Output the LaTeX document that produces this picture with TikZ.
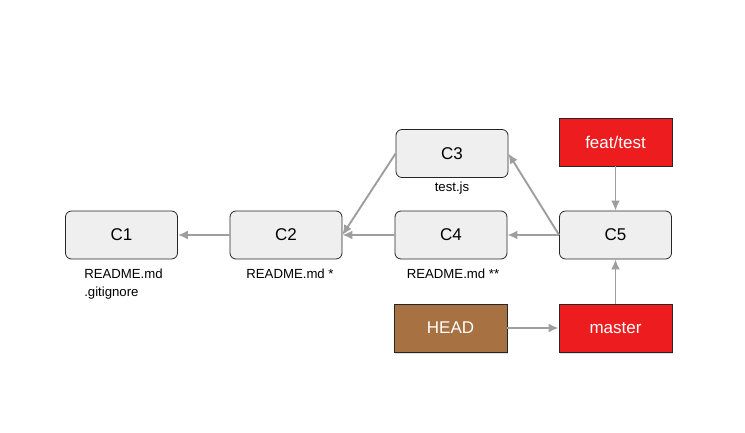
\documentclass[tikz,border=0pt]{standalone}
\usepackage{fontspec}
\setmainfont{Liberation Sans}
\usetikzlibrary{arrows.meta,positioning,shadows}
\definecolor{commitfill}{RGB}{239,239,239}
\definecolor{branchred}{RGB}{237,28,30}
\definecolor{headbrown}{RGB}{168,113,66}
\definecolor{linkgray}{RGB}{158,158,158}

\begin{document}
\begin{tikzpicture}[x=1pt,y=-1pt,>={Latex[length=10pt,width=9pt]},
  commit/.style={rectangle,rounded corners=6pt,fill=commitfill,draw=black!85,line width=0.8pt,
    minimum width=112pt,minimum height=48pt,font=\fontsize{17}{20}\selectfont},
  ref/.style={rectangle,draw=black!85,line width=0.8pt,minimum width=113pt,minimum height=48pt,
    text=white,font=\fontsize{17}{20}\selectfont,
    drop shadow={opacity=0.25,shadow xshift=1pt,shadow yshift=-1.5pt}},
  file/.style={font=\fontsize{13.2}{18.5}\selectfont,align=left,inner sep=1pt},
  link/.style={->,draw=linkgray,line width=1.9pt}]

\useasboundingbox (0,0) rectangle (745,433);

% commits
\node[commit] (C1) at (121.5,235) {C1};
\node[commit] (C2) at (286,235) {C2};
\node[commit] (C3) at (452,153.5) {C3};
\node[commit] (C4) at (451,235) {C4};
\node[commit] (C5) at (615.5,235) {C5};

% refs
\node[ref,fill=branchred] (feat) at (615.5,142) {feat/test};
\node[ref,fill=branchred] (master) at (615.5,328) {master};
\node[ref,fill=headbrown] (HEAD) at (450.5,328) {HEAD};

% files touched
\node[file,below=8pt of C1,xshift=2pt] (f1) {README.md\\.gitignore};
\node[file,below=8pt of C2,xshift=4pt] (f2) {README.md *};
\node[file,below=3pt of C3] (f3) {test.js};
\node[file,below=8pt of C4,xshift=2pt] (f4) {README.md **};

\draw[link] (C2) -- (C1);
\draw[link] (C4) -- (C2);
\draw[link] (C3.west) -- (C2.east);
\draw[link] (C5) -- (C4);
\draw[link] (C5.west) -- (C3.east);
\draw[link] (feat) -- (C5);
\draw[link] (master) -- (C5);
\draw[link] (HEAD.east) -- (master.west);

\end{tikzpicture}
\end{document}
